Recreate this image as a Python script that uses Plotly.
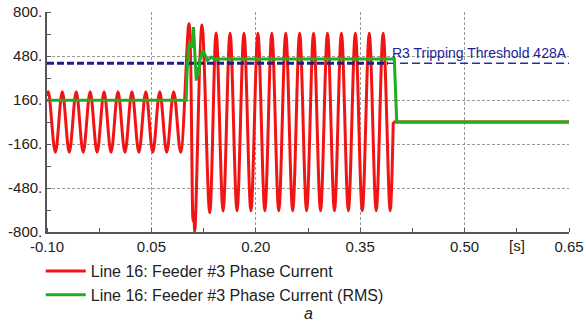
import plotly.graph_objects as go

# ---- data ----
# Phase current waveform: extrema (time [s], current [A])
wave_t = [-0.100, -0.098, -0.088, -0.078, -0.068, -0.058, -0.048, -0.038, -0.028, -0.018,
          -0.008, 0.002, 0.012, 0.022, 0.032, 0.042, 0.052, 0.062, 0.072, 0.082, 0.092,
          0.104, 0.1098, 0.1108, 0.1123, 0.1227, 0.1338,
          0.143, 0.153, 0.163, 0.173, 0.183, 0.193, 0.203, 0.213, 0.223, 0.233, 0.243,
          0.253, 0.263, 0.273, 0.283, 0.293, 0.303, 0.313, 0.323, 0.333, 0.343, 0.353,
          0.363, 0.373, 0.383, 0.393, 0.3975]
wave_i = [190, 220, -220, 220, -220, 220, -220, 220, -220, 220,
          -220, 220, -220, 220, -220, 220, -220, 220, -220, 220, -220,
          715, -720, -660, -795, 705, -660,
          648, -648, 645, -645, 645, -645, 645, -645, 645, -645, 645,
          -645, 645, -645, 645, -645, 645, -645, 645, -645, 645, -645,
          645, -645, 645, -645, 0]
tail_t = [0.3975, 0.65]
tail_i = [0, 0]

# RMS current
rms_t = [-0.100, 0.1000, 0.1010, 0.1030, 0.1055, 0.1080, 0.1105, 0.1125, 0.1145,
         0.1160, 0.1175, 0.1195, 0.1240, 0.1305, 0.1360, 0.1410, 0.1500, 0.3990,
         0.4025, 0.650]
rms_i = [158, 158, 330, 540, 575, 540, 690, 460, 300,
         400, 330, 450, 520, 448, 472, 455, 458, 458,
         0, 0]

# Threshold
threshold = 428
thr_thick_t = [-0.100, 0.390]
thr_thin_t = [0.390, 0.650]
thr_label = "R3 Tripping Threshold 428A"

x_ticks = [-0.10, 0.05, 0.20, 0.35, 0.50, 0.65]
x_ticktext = ["-0.10", "0.05", "0.20", "0.35", "0.50", "0.65"]
y_ticks = [-800, -480, -160, 160, 480, 800]
y_ticktext = ["-800.", "-480.", "-160.", "160.", "480.", "800."]

RED = "#f21414"
GREEN = "#1fae1f"
NAVY = "#1c1f8a"
FONT = "Liberation Sans, Arial, sans-serif"

fig = go.Figure()
fig.add_trace(go.Scatter(x=wave_t, y=wave_i, mode="lines",
                         line=dict(color=RED, width=3, shape="spline", smoothing=1.0),
                         name="Line 16: Feeder #3 Phase Current"))
fig.add_trace(go.Scatter(x=tail_t, y=tail_i, mode="lines",
                         line=dict(color=RED, width=3), showlegend=False))
fig.add_trace(go.Scatter(x=thr_thick_t, y=[threshold, threshold], mode="lines",
                         line=dict(color=NAVY, width=3, dash="7px,3px"), showlegend=False))
fig.add_trace(go.Scatter(x=thr_thin_t, y=[threshold, threshold], mode="lines",
                         line=dict(color="#2a2fa0", width=1.5, dash="8px,4px"), showlegend=False))
fig.add_trace(go.Scatter(x=rms_t, y=rms_i, mode="lines",
                         line=dict(color=GREEN, width=3),
                         name="Line 16: Feeder #3 Phase Current (RMS)"))

fig.add_annotation(x=0.65, y=threshold, xref="x", yref="y", text=thr_label,
                   xanchor="right", yanchor="bottom", yshift=0, showarrow=False,
                   font=dict(family=FONT, size=14, color="#1c1f9a"))
fig.add_annotation(x=0.575, y=-0.062, xref="x", yref="paper", text="[s]",
                   yanchor="middle", showarrow=False,
                   font=dict(family=FONT, size=15, color="#222"))
fig.add_annotation(x=0.5, y=-0.37, xref="paper", yref="paper", text="<i>a</i>",
                   yanchor="middle", showarrow=False,
                   font=dict(family=FONT, size=16, color="#222"))

axis_common = dict(showgrid=True, gridcolor="#9a9a9a", gridwidth=1, griddash="3px,2px",
                   zeroline=False, showline=True, linecolor="#555", linewidth=1.5,
                   ticks="", tickfont=dict(family=FONT, size=15, color="#222"))
fig.update_xaxes(range=[-0.10, 0.65], tickvals=x_ticks, ticktext=x_ticktext,
                 minor=dict(dtick=0.075, tick0=-0.1, ticks="inside", ticklen=4,
                            tickcolor="#555", showgrid=False),
                 **axis_common)
fig.update_yaxes(range=[-800, 800], tickvals=y_ticks, ticktext=y_ticktext,
                 minor=dict(dtick=160, tick0=0, ticks="inside", ticklen=4,
                            tickcolor="#555", showgrid=False),
                 **axis_common)

fig.update_layout(
    width=586, height=329,
    margin=dict(l=47, r=17, t=12, b=97, autoexpand=False),
    paper_bgcolor="white", plot_bgcolor="white",
    font=dict(family=FONT, color="#222"),
    showlegend=True,
    legend=dict(x=-0.012, y=-0.10, xanchor="left", yanchor="top",
                orientation="v", font=dict(family=FONT, size=16, color="#222"),
                bgcolor="rgba(0,0,0,0)", tracegroupgap=0, itemwidth=40),
)

fig.write_html("out.html")
